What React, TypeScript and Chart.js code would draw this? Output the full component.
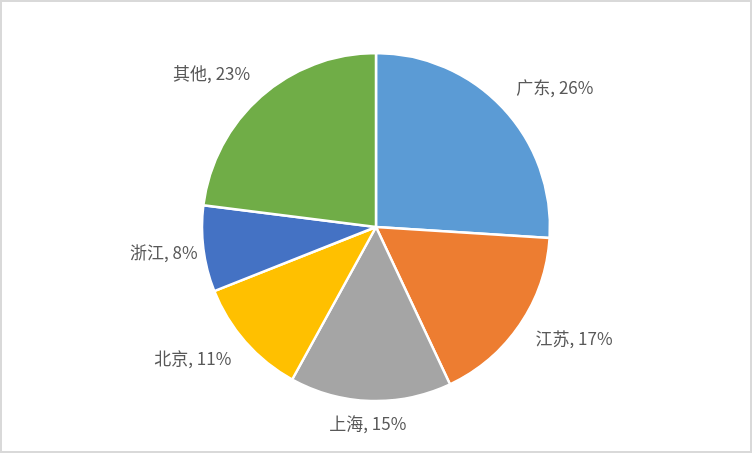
import React, { useEffect, useRef } from "react";
import { Chart, registerables } from "chart.js";

Chart.register(...registerables);

const categories = ["广东", "江苏", "上海", "北京", "浙江", "其他"];
const shares = [26, 17, 15, 11, 8, 23];
const colors = ["#5B9BD5", "#ED7D31", "#A5A5A5", "#FFC000", "#4472C4", "#70AD47"];

const FONT = '17px "Noto Sans CJK SC", "Noto Sans", sans-serif';

const outsideLabels = {
  id: "outsideLabels",
  afterDatasetsDraw(chart: any) {
    const ctx = chart.ctx;
    const meta = chart.getDatasetMeta(0);
    const labels = chart.data.labels as string[];
    const data = chart.data.datasets[0].data as number[];
    ctx.save();
    ctx.font = FONT;
    ctx.fillStyle = "#595959";
    ctx.textAlign = "center";
    ctx.textBaseline = "middle";
    meta.data.forEach((arc: any, i: number) => {
      const p = arc.getProps(["x", "y", "startAngle", "endAngle", "outerRadius"], true);
      const mid = (p.startAngle + p.endAngle) / 2;
      const dx = Math.cos(mid);
      const dy = Math.sin(mid);
      const text = `${labels[i]}, ${data[i]}%`;
      const w = ctx.measureText(text).width;
      const h = 16;
      const gx = 48 * Math.abs(dy);
      const gy = 19 - 4 * dy;
      const x = p.x + dx * (p.outerRadius + gx) + dx * (w / 2);
      const y = p.y + dy * (p.outerRadius + gy) + dy * (h / 2);
      ctx.fillText(text, x, y);
    });
    ctx.restore();
  },
};

export default function App() {
  const ref = useRef<HTMLCanvasElement>(null);
  useEffect(() => {
    document.body.style.margin = "0";
    const chart = new Chart(ref.current!, {
      type: "pie",
      data: {
        labels: categories,
        datasets: [
          {
            data: shares,
            backgroundColor: colors,
            borderColor: "#ffffff",
            borderWidth: 2.5,
          },
        ],
      },
      options: {
        animation: false,
        responsive: false,
        radius: 174,
        rotation: 0,
        layout: { padding: { top: 1, bottom: 0, left: 0, right: 0 } },
        plugins: {
          legend: { display: false },
          tooltip: { enabled: false },
        },
      },
      plugins: [outsideLabels],
    });
    return () => chart.destroy();
  }, []);
  return (
    <div
      style={{
        position: "relative",
        width: 752,
        height: 453,
        boxSizing: "border-box",
        border: "2px solid #d9d9d9",
        background: "#ffffff",
        overflow: "hidden",
      }}
    >
      <canvas
        ref={ref}
        width={752}
        height={453}
        style={{ position: "absolute", left: -2, top: -2, width: 752, height: 453 }}
      />
    </div>
  );
}
